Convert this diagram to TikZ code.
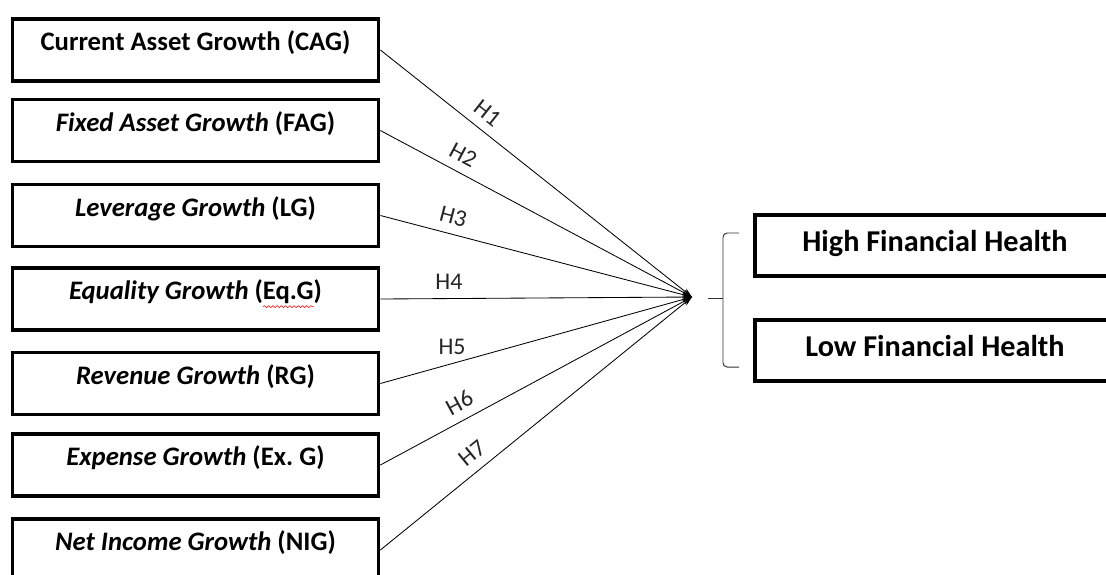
\documentclass[tikz,border=0pt]{standalone}
\usepackage{fontspec}
\setmainfont{Carlito}
\usepackage{tikz}
\usetikzlibrary{arrows.meta, decorations.pathmorphing}

% red spell-check wave under a word
\newsavebox\wavebox
\newcommand\redwave[1]{\sbox\wavebox{#1}\rlap{\raisebox{-5pt}{\tikz[baseline]\draw[red, line width=0.4pt,
  decorate, decoration={snake, amplitude=0.7pt, segment length=3pt}] (0pt,0pt) -- (\wd\wavebox,0pt);}}\usebox\wavebox}

\begin{document}
\begin{tikzpicture}[x=0.025cm, y=-0.025cm,
  growthbox/.style={draw, line width=2.6pt, minimum width=9.15cm, inner xsep=0pt, inner ysep=0pt,
    text height=0.79cm, text depth=0.76cm, font=\fontsize{19}{22}\selectfont\bfseries},
  healthbox/.style={draw, line width=2.6pt, minimum width=9cm, inner xsep=0pt, inner ysep=0pt,
    text height=0.9cm, text depth=0.625cm, font=\fontsize{21.5}{25}\selectfont\bfseries},
  hypline/.style={line width=0.6pt, -{Stealth[length=7pt, width=4.5pt]}},
  hyplabel/.style={above=3pt, font=\fontsize{17}{20}\selectfont, text=black!85},
  bracket/.style={line width=0.7pt, black!80, rounded corners=3pt}]
\useasboundingbox (0,0) rectangle (1106,574);
\clip (0,0) rectangle (1106,574);

% growth variables
\foreach \y/\txt [count=\i] in {
    50/{Current Asset Growth (CAG)},
    130.5/{\textit{Fixed Asset Growth} (FAG)},
    215.5/{\textit{Leverage Growth} (LG)},
    299/{\textit{Equality Growth} (\redwave{Eq.G})},
    383.5/{\textit{Revenue Growth} (RG)},
    465/{\textit{Expense Growth} (Ex.~G)},
    550/{\textit{Net Income Growth} (NIG)}} {
  \node[growthbox] (var\i) at (195.5,\y) {\txt};
}

% outcome
\node[healthbox] (high) at (935,245.5) {High Financial Health};
\node[healthbox] (low) at (935,350.5) {Low Financial Health};

\coordinate (hub) at (692,297);

% hypotheses
\foreach \i/\p in {1/0.31, 2/0.24, 3/0.22, 6/0.28, 7/0.33} {
  \draw[hypline] (var\i.east) -- node[hyplabel, sloped, pos=\p] {H\i} (hub);
}
\foreach \i/\p in {4/0.22, 5/0.23} {
  \draw[hypline] (var\i.east) -- node[hyplabel, pos=\p] {H\i} (hub);
}

% bracket round the two outcomes
\draw[bracket] (739,233) -- (723,233) -- (723,367) -- (739,367);
\draw[bracket] (723,298) -- (708,298);
\end{tikzpicture}
\end{document}
